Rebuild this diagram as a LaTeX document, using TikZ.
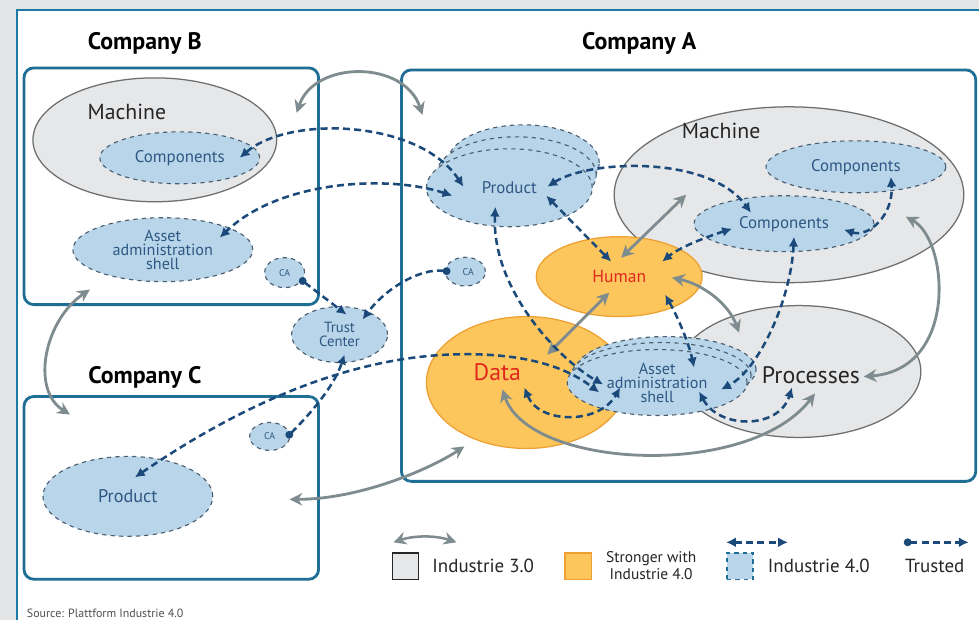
\documentclass[tikz,border=0pt]{standalone}
\usepackage{fontspec}
\setmainfont{PT Sans}
\usetikzlibrary{arrows.meta}
\usetikzlibrary{shapes.geometric}
\usetikzlibrary{positioning}

\definecolor{bggray}{HTML}{E2E4E5}
\definecolor{frameblue}{HTML}{1C7BA6}
\definecolor{boxblue}{HTML}{1F6E96}
\definecolor{machgray}{HTML}{E6E7E9}
\definecolor{edgegray}{HTML}{6E6E6E}
\definecolor{blfill}{HTML}{B8D5EA}
\definecolor{bledge}{HTML}{4B5E70}
\definecolor{orfill}{HTML}{FCC65C}
\definecolor{oredge}{HTML}{EFA032}
\definecolor{darrow}{HTML}{1B4A7A}
\definecolor{garrow}{HTML}{7E8B8F}
\definecolor{bltext}{HTML}{2E5883}
\definecolor{redtext}{HTML}{E0281E}
\definecolor{darktext}{HTML}{262626}

\begin{document}
\begin{tikzpicture}[x=0.025cm,y=-0.025cm,
    i3/.style={ellipse,draw=edgegray,fill=machgray,line width=0.9pt,inner sep=0pt},
    i4/.style={ellipse,draw=bledge,fill=blfill,dashed,line width=0.8pt,text=bltext,inner sep=0pt,font=\fontsize{12}{12}\selectfont},
    i4s/.style={i4,align=center,font=\fontsize{11.5}{10}\selectfont},
    ca/.style={i4,minimum width=1cm,minimum height=0.75cm,font=\fontsize{7}{7}\selectfont},
    strong/.style={ellipse,draw=oredge,fill=orfill,line width=0.9pt,text=redtext,inner sep=0pt},
    company/.style={draw=boxblue,line width=2pt,rounded corners=7pt},
    comptitle/.style={text=black,font=\fontsize{17}{17}\selectfont\bfseries},
    bigtext/.style={text=darktext,font=\fontsize{15.5}{16}\selectfont},
    legtext/.style={text=darktext,font=\fontsize{13.5}{14}\selectfont},
    grarrow/.style={draw=garrow,line width=2pt,{Stealth[length=9pt,width=9pt]}-{Stealth[length=9pt,width=9pt]}},
    dsharrow/.style={draw=darrow,line width=1.8pt,dash pattern=on 5pt off 3pt,{Latex[length=7pt,width=7pt]}-{Latex[length=7pt,width=7pt]}},
    trust/.style={draw=darrow,line width=1.8pt,dash pattern=on 5pt off 3pt,{Circle[length=5.5pt]}-{Latex[length=7pt,width=7pt]}}]

  \fill[bggray] (0,0) rectangle (980,621);
  \fill[white] (17,10) rectangle (980,621);
  \draw[frameblue,line width=1.8pt] (17,621) -- (17,10) -- (980,10);
  \useasboundingbox (0,0) rectangle (980,621);

  \node[comptitle] (titleB) at (145,43) {Company B};
  \node[comptitle] (titleA) at (640,43) {Company A};
  \node[comptitle] (titleC) at (145,378) {Company C};

  \draw[company] (24,68) rectangle (319,305);
  \draw[company] (402,70) rectangle (977,482);
  \draw[company] (24,397) rectangle (319,580);

  \node[i3,minimum width=6.1cm,minimum height=3.1cm] (machB) at (155,140) {};
  \node[bigtext] (machBtxt) at (127,112) {Machine};
  \node[i4,minimum width=4cm,minimum height=1.3cm] (compB) at (180,158) {Components};
  \node[i4s,minimum width=4.5cm,minimum height=1.6cm] (aasB) at (163,250) {Asset\\administration\\shell};
  \node[ca] (caB) at (285,273) {CA\hspace{4pt}};

  \node[i4s,minimum width=2.4cm,minimum height=1.4cm,font=\fontsize{10.5}{10}\selectfont] (trustc) at (340,335) {Trust\\Center};
  \node[ca,minimum height=0.7cm] (caC) at (270,437) {CA\hspace{4pt}};
  \node[ca,minimum height=0.72cm] (caA) at (466,272) {\hspace{4pt}CA};

  \node[i4,minimum width=4.25cm,minimum height=2cm,font=\fontsize{13}{13}\selectfont] (prodC) at (128,497) {Product};

  \node[i3,minimum width=8.75cm,minimum height=4.4cm] (machA) at (790,195) {};
  \node[bigtext] (machAtxt) at (722,131) {Machine};
  \node[i4,minimum width=4.5cm,minimum height=1.3cm] (compA1) at (857,167) {Components};
  \node[i4,minimum width=4.5cm,minimum height=1.4cm] (compA2) at (785,224) {Components};

  \node[i3,minimum width=6.1cm,minimum height=3.3cm] (proc) at (800,372) {};
  \node[bigtext,font=\fontsize{17}{17}\selectfont] (proctxt) at (812,376) {Processes};
  \node[strong,minimum width=5cm,minimum height=3.3cm] (data) at (527,383) {};
  \node[text=redtext,font=\fontsize{17}{17}\selectfont] (datatxt) at (498,373) {Data};
  \node[strong,minimum width=4.15cm,minimum height=2cm,font=\fontsize{12.5}{12}\selectfont] (human) at (620,277) {Human};

  \node[i4,minimum width=4.5cm,minimum height=1.65cm] (aasA3) at (667,370) {};
  \node[i4,minimum width=4.5cm,minimum height=1.65cm] (aasA2) at (662,376) {};
  \node[i4s,minimum width=4.5cm,minimum height=1.65cm] (aasA) at (658,383) {Asset\\administration\\shell};

  \node[i4,minimum width=3.8cm,minimum height=1.9cm] (prodA3) at (524,163) {};
  \node[i4,minimum width=4cm,minimum height=1.9cm] (prodA2) at (517,175) {};
  \node[i4,minimum width=4.15cm,minimum height=1.95cm] (prodA) at (510,188) {Product};

  \coordinate (gb1) at (297,113);
  \coordinate (ga1) at (423,115);
  \coordinate (gb2) at (90,290);
  \coordinate (gc2) at (70,415);
  \coordinate (gc3) at (290,500);
  \coordinate (ga3) at (465,447);
  \coordinate (gh1) at (622,258);
  \coordinate (gm1) at (687,195);
  \coordinate (gh2) at (610,293);
  \coordinate (gd2) at (548,355);
  \coordinate (gh3) at (673,278);
  \coordinate (gp3) at (740,333);
  \coordinate (gd4) at (503,390);
  \coordinate (gp4) at (816,394);
  \coordinate (gm5) at (907,217);
  \coordinate (gp5) at (865,377);

  \draw[grarrow] (gb1) .. controls (315,60) and (405,60) .. (ga1);
  \draw[grarrow] (gb2) .. controls (45,320) and (30,390) .. (gc2);
  \draw[grarrow] (gc3) .. controls (360,500) and (430,470) .. (ga3);
  \draw[grarrow] (gh1) -- (gm1);
  \draw[grarrow] (gh2) -- (gd2);
  \draw[grarrow] (gh3) .. controls (705,285) and (730,305) .. (gp3);
  \draw[grarrow] (gd4) .. controls (530,470) and (750,480) .. (gp4);
  \draw[grarrow] (gm5) .. controls (950,240) and (960,370) .. (gp5);

  \coordinate (pa1) at (464,187);
  \coordinate (cb1) at (240,158);
  \coordinate (pa2) at (453,196);
  \coordinate (ab2) at (220,238);
  \coordinate (pa3) at (548,187);
  \coordinate (ca3) at (752,213);
  \coordinate (pa4) at (547,196);
  \coordinate (hu4) at (612,262);
  \coordinate (pa5) at (496,207);
  \coordinate (aa5) at (604,385);
  \coordinate (ca6) at (733,229);
  \coordinate (hu6) at (663,262);
  \coordinate (ca7) at (845,230);
  \coordinate (cc7) at (892,177);
  \coordinate (ca8) at (795,237);
  \coordinate (aa8) at (722,390);
  \coordinate (hu9) at (666,295);
  \coordinate (aa9) at (695,368);
  \coordinate (da10) at (525,388);
  \coordinate (aa10) at (621,388);
  \coordinate (aa11) at (700,392);
  \coordinate (pr11) at (793,388);
  \coordinate (pc12) at (135,478);
  \coordinate (aa12) at (600,393);

  \draw[dsharrow] (pa1) .. controls (420,120) and (290,115) .. (cb1);
  \draw[dsharrow] (pa2) .. controls (390,175) and (280,180) .. (ab2);
  \draw[dsharrow] (pa3) .. controls (590,160) and (710,155) .. (ca3);
  \draw[dsharrow] (pa4) -- (hu4);
  \draw[dsharrow] (pa5) .. controls (492,290) and (560,360) .. (aa5);
  \draw[dsharrow] (ca6) .. controls (705,238) and (680,248) .. (hu6);
  \draw[dsharrow] (ca7) .. controls (870,238) and (895,215) .. (cc7);
  \draw[dsharrow] (ca8) .. controls (792,300) and (760,370) .. (aa8);
  \draw[dsharrow] (hu9) .. controls (680,320) and (690,345) .. (aa9);
  \draw[dsharrow] (da10) .. controls (540,425) and (600,425) .. (aa10);
  \draw[dsharrow] (aa11) .. controls (720,430) and (780,430) .. (pr11);
  \draw[dsharrow] (pc12) .. controls (220,420) and (330,360) .. (450,355) .. controls (530,352) and (570,370) .. (aa12);

  \coordinate (cb13) at (300,279);
  \coordinate (tc13) at (347,315);
  \coordinate (cA14) at (451,272);
  \coordinate (tc14) at (363,320);
  \coordinate (cc15) at (287,438);
  \coordinate (tc15) at (345,355);

  \draw[trust] (cb13) -- (tc13);
  \draw[trust] (cA14) .. controls (420,268) and (385,290) .. (tc14);
  \draw[trust] (cc15) .. controls (315,410) and (335,385) .. (tc15);

  \node[draw=darktext,fill=machgray,line width=1.1pt,minimum size=0.66cm,inner sep=0pt] (leg3) at (406,567) {};
  \node[legtext,anchor=west] (leg3txt) at (428,567) {Industrie 3.0};
  \node[draw=oredge,fill=orfill,line width=1.1pt,minimum size=0.66cm,inner sep=0pt] (legs) at (579,567) {};
  \node[text=darktext,align=center,font=\fontsize{11}{12}\selectfont] (legstxt) at (652,566) {Stronger with\\Industrie 4.0};
  \node[draw=boxblue,fill=blfill,dashed,line width=1.1pt,minimum size=0.66cm,inner sep=0pt] (leg4) at (741,567) {};
  \node[legtext,anchor=west] (leg4txt) at (764,567) {Industrie 4.0};
  \node[legtext] (legtrtxt) at (936,567) {Trusted};

  \coordinate (lg1) at (394,543);
  \coordinate (lg2) at (457,543);
  \coordinate (lb1) at (727,543);
  \coordinate (lb2) at (789,543);
  \coordinate (lt1) at (905,543);
  \coordinate (lt2) at (970,543);
  \draw[grarrow,line width=1.8pt] (lg1) .. controls (415,536) and (436,536) .. (lg2);
  \draw[dsharrow] (lb1) -- (lb2);
  \draw[trust] (lt1) -- (lt2);

  \node[anchor=west,text=darktext!80,font=\fontsize{8.5}{8}\selectfont] (source) at (22,614) {Source: Plattform Industrie 4.0};
\end{tikzpicture}
\end{document}
